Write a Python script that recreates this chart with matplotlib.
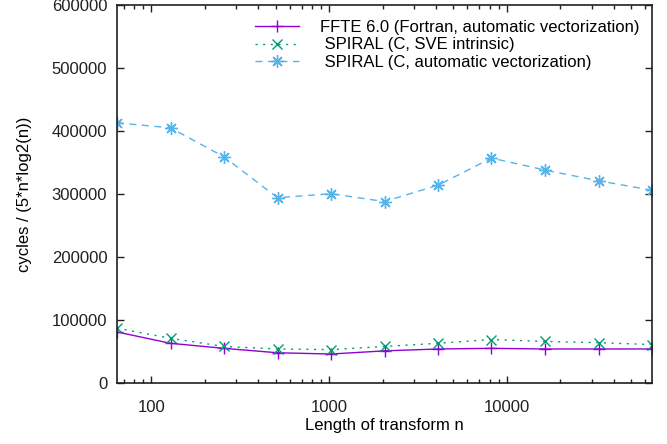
import matplotlib
matplotlib.use('Agg')
import matplotlib.pyplot as plt
import numpy as np

plt.rcParams['font.family'] = ['Liberation Sans', 'DejaVu Sans']
plt.rcParams['font.size'] = 12

# transform lengths
n = [64, 128, 256, 512, 1024, 2048, 4096, 8192, 16384, 32768, 65536]

# cycles / (5*n*log2(n))
ffte = [81000, 63000, 55000, 48000, 46000, 51000, 54000, 55000, 54000, 54000, 54000]
spiral_sve = [87000, 71000, 58000, 54000, 53000, 58000, 63000, 69000, 66000, 64000, 61000]
spiral_auto = [413000, 405000, 359000, 294000, 300500, 288000, 314000, 357000, 338000, 321000, 306000]

labels = ['FFTE 6.0 (Fortran, automatic vectorization)',
          ' SPIRAL (C, SVE intrinsic)',
          ' SPIRAL (C, automatic vectorization)']

fig = plt.figure(figsize=(6.67, 4.44), dpi=100)
ax = fig.add_axes([117/667, 1-383/444, (652-117)/667, (383-5)/444])

ax.plot(n, ffte, color='#9400d3', lw=1, marker='+', ms=8, mew=1, label=labels[0])
ax.plot(n, spiral_sve, color='#009e73', lw=1, ls=(0, (1.5, 4)), marker='x', ms=7, mew=1, label=labels[1])
ax.plot(n, spiral_auto, color='#56b4e9', lw=1, ls=(0, (5, 4)), marker=(8, 2, 0), ms=9, mew=1, label=labels[2])

ax.set_xscale('log')
ax.set_xlim(64, 65536)
ax.set_ylim(0, 600000)
ax.set_yticks(np.arange(0, 600001, 100000))
ax.set_xticks([100, 1000, 10000])
ax.set_xticklabels(['100', '1000', '10000'])
ax.tick_params(which='both', direction='in', top=True, right=True, colors='#202020', labelcolor='#202020')
ax.tick_params(which='major', length=5, width=1)
ax.tick_params(which='minor', length=3, width=1)
ax.tick_params(axis='x', which='major', pad=12.5)
ax.tick_params(axis='y', which='major', pad=7)
for s in ax.spines.values():
    s.set_linewidth(1.2)
    s.set_color('#202020')

ax.set_xlabel('Length of transform n', labelpad=2)
ax.set_ylabel('cycles / (5*n*log2(n))', labelpad=14)

ax.legend(loc='upper right', frameon=False, handlelength=2.65, handletextpad=1.25,
          labelspacing=0.15, borderaxespad=0.5, bbox_to_anchor=(1.004, 1.0))

fig.savefig('out.png', dpi=100)
